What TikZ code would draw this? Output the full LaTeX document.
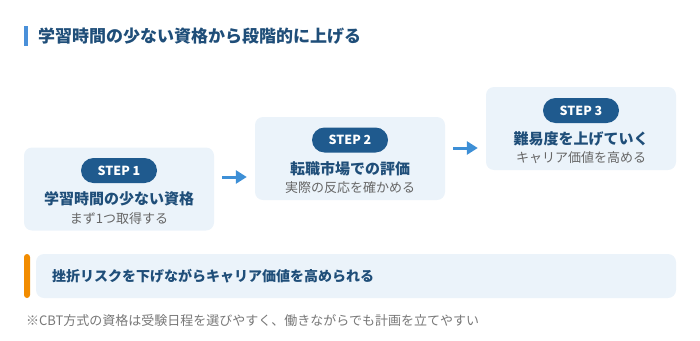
\documentclass[tikz,border=0pt]{standalone}
\usepackage{fontspec}
\setmainfont{Noto Sans CJK JP}
\usetikzlibrary{arrows.meta}
\definecolor{boxbg}{HTML}{EBF3FA}
\definecolor{pillbg}{HTML}{1F5A8E}
\definecolor{navy}{HTML}{1F4E79}
\definecolor{subgray}{HTML}{666666}
\definecolor{notegray}{HTML}{777777}
\definecolor{arrowblue}{HTML}{3D8FD6}
\definecolor{barblue}{HTML}{4A90D9}
\definecolor{orangebar}{HTML}{F28C00}
\tikzset{
  stepbox/.style={rectangle, fill=boxbg, rounded corners=8pt, minimum width=190pt, minimum height=83pt, inner sep=0pt},
  pill/.style={rectangle, fill=pillbg, rounded corners=12.5pt, minimum width=76pt, minimum height=25pt, inner sep=0pt, text=white, font=\bfseries\fontsize{12.5}{14}\selectfont},
  steptitle/.style={text=navy, font=\bfseries\fontsize{15}{18}\selectfont, inner sep=0pt},
  stepsub/.style={text=subgray, font=\fontsize{13}{15}\selectfont, inner sep=0pt},
  arr/.style={draw=arrowblue, line width=3pt, -{Triangle[length=11pt,width=13pt]}},
}
\begin{document}
\begin{tikzpicture}[x=1pt,y=-1pt]
\useasboundingbox (0,0) rectangle (700,340);
% title
\fill[barblue] (24,26) rectangle (28,46);
\node[anchor=west, text=navy, font=\bfseries\fontsize{17}{20}\selectfont, inner sep=0pt] (title) at (38,36) {学習時間の少ない資格から段階的に上げる};
% step boxes
\node[stepbox] (box1) at (119,189) {};
\node[stepbox] (box2) at (350,158.5) {};
\node[stepbox] (box3) at (581,128.5) {};
\node[pill] (pill1) at (119,170.5) {STEP 1};
\node[pill] (pill2) at (350,140) {STEP 2};
\node[pill] (pill3) at (581,110.5) {STEP 3};
\node[steptitle] (t1) at (119,199) {学習時間の少ない資格};
\node[steptitle] (t2) at (350,168.5) {転職市場での評価};
\node[steptitle] (t3) at (581,138.5) {難易度を上げていく};
\node[stepsub] (s1) at (119,218.5) {まず1つ取得する};
\node[stepsub] (s2) at (350,188) {実際の反応を確かめる};
\node[stepsub] (s3) at (581,158) {キャリア価値を高める};
% arrows
\draw[arr] ([shift={(8,-12)}]box1.east) -- ([shift={(-8,18.5)}]box2.west);
\draw[arr] ([shift={(8,-10.5)}]box2.east) -- ([shift={(-8,19.5)}]box3.west);
% banner
\fill[orangebar, rounded corners=3pt] (24,254) rectangle (30,298);
\node[rectangle, fill=boxbg, rounded corners=8pt, minimum width=640pt, minimum height=44pt, inner sep=0pt] (banner) at (356,276) {};
\node[anchor=west, text=navy, font=\bfseries\fontsize{14}{17}\selectfont, inner sep=0pt] (bannertext) at (52,276) {挫折リスクを下げながらキャリア価値を高められる};
% footnote
\node[anchor=west, text=notegray, font=\fontsize{13}{15}\selectfont, inner sep=0pt] (note) at (26,321) {※CBT方式の資格は受験日程を選びやすく、働きながらでも計画を立てやすい};
\end{tikzpicture}
\end{document}
